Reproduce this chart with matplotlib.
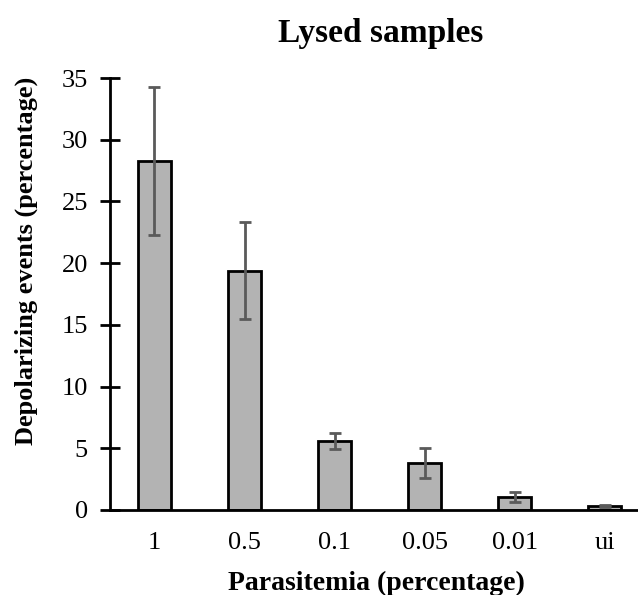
import matplotlib
matplotlib.use("Agg")
import matplotlib.pyplot as plt
import numpy as np

plt.rcParams['font.family'] = ['Liberation Serif', 'DejaVu Serif']

categories = ['1', '0.5', '0.1', '0.05', '0.01', 'ui']
means = [28.25, 19.4, 5.6, 3.78, 1.05, 0.32]
errors = [6.0, 3.95, 0.65, 1.22, 0.38, 0.05]

fig = plt.figure(figsize=(6.38, 5.95), dpi=100)
ax = fig.add_axes([0.1724, 0.1429, 0.8276, 0.726])

x = np.arange(len(categories))
ax.bar(x, means, width=0.36, color='#b3b3b3', edgecolor='black', linewidth=2,
       yerr=errors, error_kw=dict(ecolor='#5a5a5a', elinewidth=2, capsize=4, capthick=2))

ax.set_xlim(-0.494, 5.37)
ax.set_ylim(0, 35)
ax.set_yticks(range(0, 36, 5))
ax.set_xticks(x)
ax.set_xticklabels(categories)

for s in ['top', 'right']:
    ax.spines[s].set_visible(False)
ax.spines['left'].set_linewidth(2)
ax.spines['bottom'].set_linewidth(2)
ax.tick_params(axis='y', direction='inout', length=14, width=2, labelsize=19, pad=9)
ax.tick_params(axis='x', length=0, labelsize=19, pad=16)

ax.set_ylabel('Depolarizing events (percentage)', fontsize=19, fontweight='bold')
ax.yaxis.set_label_coords(-0.136, 0.576)
ax.set_xlabel('Parasitemia (percentage)', fontsize=20, fontweight='bold')
ax.xaxis.set_label_coords(0.505, -0.14)
ax.set_title('Lysed samples', fontsize=24, fontweight='bold', pad=26, x=0.512)

fig.savefig('out.png', dpi=100)
